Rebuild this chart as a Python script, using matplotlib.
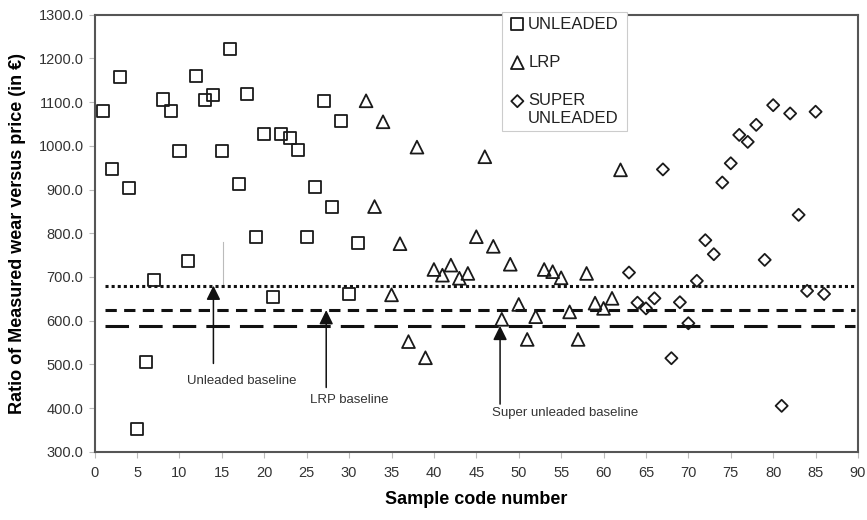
import matplotlib
matplotlib.use('Agg')
import matplotlib.pyplot as plt

plt.rcParams['font.family'] = ['Liberation Sans', 'DejaVu Sans']

# sample code numbers and wear/price ratios per fuel type
unleaded_x = list(range(1, 32))
unleaded_y = [1080, 946, 1158, 903, 351, 506, 694, 1106, 1080, 989,
              736, 1160, 1105, 1116, 989, 1222, 912, 1118, 792, 1028,
              653, 1026, 1018, 990, 792, 906, 1103, 861, 1057, 661, 778]

lrp_x = list(range(32, 63))
lrp_y = [1103, 861, 1055, 659, 776, 552, 997, 515, 717, 704,
         727, 697, 708, 792, 975, 770, 603, 729, 637, 557,
         609, 717, 712, 698, 620, 557, 708, 640, 628, 651, 945]

super_x = list(range(63, 87))
super_y = [710, 641, 628, 651, 946, 514, 642, 594, 691, 784,
           752, 916, 960, 1025, 1009, 1048, 739, 1093, 405, 1074,
           842, 668, 1078, 661]

# baseline levels
baseline_names = ['Unleaded baseline', 'LRP baseline', 'Super unleaded baseline']
baseline_vals = [680, 624, 588]
baseline_span = [1.2, 89.6]

# arrow positions (x, tail value) and label anchors
arrow_x = [14.0, 27.3, 47.8]
arrow_tail = [502, 447, 409]
label_x = [17.4, 30.0, 55.5]
label_y = [462, 418, 388]

fig = plt.figure(figsize=(8.67, 5.2), dpi=100)
ax = fig.add_axes([0.1092, 0.1313, 0.8804, 0.8404])

mk = dict(facecolors='none', edgecolors='#1a1a1a', linewidths=1.3, zorder=3)
ax.scatter(unleaded_x, unleaded_y, marker='s', s=75, label='UNLEADED', **mk)
ax.scatter(lrp_x, lrp_y, marker='^', s=85, label='LRP', **mk)
ax.scatter(super_x, super_y, marker='D', s=38, label='SUPER\nUNLEADED', **mk)

styles = [(0, (1, 1)), (0, (3.7, 2.4)), (0, (7.7, 3.3))]
for val, ls in zip(baseline_vals, styles):
    ax.plot(baseline_span, [val, val], color='#111111', lw=2.2,
            linestyle=ls, dash_capstyle='butt', zorder=2)

# stray guide line above the unleaded arrow
ax.plot([15.1, 15.1], [baseline_vals[0], 781], color='#bbbbbb', lw=0.8, zorder=1)

for xa, tail, val in zip(arrow_x, arrow_tail, baseline_vals):
    ax.annotate('', xy=(xa, val), xytext=(xa, tail),
                arrowprops=dict(arrowstyle='-|>,head_length=0.85,head_width=0.42',
                                color='#111111', lw=1.1, shrinkA=0, shrinkB=0),
                zorder=4)

for name, lx, ly in zip(baseline_names, label_x, label_y):
    ax.text(lx, ly, name, ha='center', va='center', fontsize=9.5, color='#333333')

ax.set_xlim(0, 90)
ax.set_ylim(300, 1300)
ax.set_xticks(range(0, 91, 5))
ax.set_yticks(range(300, 1301, 100))
ax.set_yticklabels([f'{v:.1f}' for v in range(300, 1301, 100)])
ax.tick_params(axis='both', direction='out', length=4, width=0.8,
               color='#bbbbbb', labelsize=10.5, labelcolor='#333333', pad=4)
ax.tick_params(axis='x', pad=6)

for sp in ax.spines.values():
    sp.set_color('#555555')
    sp.set_linewidth(1.5)

ax.set_xlabel('Sample code number', fontsize=13, fontweight='bold', labelpad=8)
ax.set_ylabel('Ratio of Measured wear versus price (in €)', fontsize=13,
              fontweight='bold', labelpad=9)

leg = ax.legend(loc='upper left', bbox_to_anchor=(0.533, 0.740, 0.165, 0.267),
                mode='expand', borderaxespad=0,
                fontsize=12, frameon=True, fancybox=False, framealpha=1,
                edgecolor='#cccccc', handlelength=1.3, handletextpad=0.0,
                labelspacing=1.4, borderpad=0.3, scatterpoints=1)
leg.get_frame().set_linewidth(0.8)
for t in leg.get_texts():
    t.set_color('#222222')

# put the two-line entry's marker level with its first line
h = leg.legend_handles[2]
off = h.get_offsets().copy()
off[:, 1] += 0.6 * 12
h.set_offsets(off)

fig.savefig('out.png', dpi=100, facecolor='white')
